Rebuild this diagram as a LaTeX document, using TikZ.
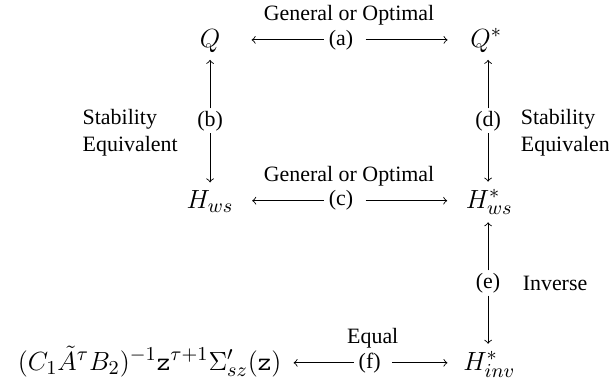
\documentclass[tikz,border=0pt]{standalone}
\usepackage[no-math]{fontspec}
\setmainfont{Liberation Serif}
\tikzset{
  obj/.style={font=\fontsize{12.7}{15}\selectfont, anchor=base},
  tag/.style={inner xsep=2pt, inner ysep=1pt},
  note/.style={align=left, inner sep=0pt},
}
\begin{document}
\begin{tikzpicture}
\useasboundingbox (0,0) rectangle (9.77,-6.23);
% objects
\node[obj] (Q) at (3.37,-0.754) {$Q$};
\node[obj] (Qs) at (7.80,-0.754) {$Q^*$};
\node[obj] (Hws) at (3.37,-3.338) {$H_{ws}$};
\node[obj] (Hwss) at (7.85,-3.338) {$H^*_{ws}$};
\node[obj] (Hinv) at (7.85,-5.939) {$H^*_{inv}$};
\node[obj, anchor=base east] (expr) at (4.64,-5.939) {$(C_1\tilde{A}^{\tau}B_2)^{-1}\mathtt{z}^{\tau+1}\Sigma'_{sz}(\mathtt{z})$};
% labels
\node[tag] (a) at (5.47,-0.64) {(a)};
\node[tag] (b) at (3.37,-1.94) {(b)};
\node[tag] (c) at (5.47,-3.22) {(c)};
\node[tag] (d) at (7.83,-1.94) {(d)};
\node[tag] (e) at (7.83,-4.54) {(e)};
\node[tag] (f) at (5.93,-5.82) {(f)};
\node (go1) at (5.60,-0.24) {General or Optimal};
\node (go2) at (5.60,-2.825) {General or Optimal};
\node (eq) at (5.98,-5.42) {Equal};
\node[note, anchor=west] (se1) at (1.32,-2.13) {Stability\\Equivalent};
\node[note, anchor=west] (se2) at (8.35,-2.13) {Stability\\Equivalent};
\node[note, anchor=west] (inv) at (8.38,-4.54) {Inverse};
% arrows
\draw[->, shorten >=10.8pt] (a) -- (a -| Q.east);
\draw[->, shorten <=3.5pt, shorten >=6.9pt] (a) -- (a -| Qs.west);
\draw[->, shorten >=5pt] (c) -- (c -| Hws.east);
\draw[->, shorten <=3.5pt, shorten >=5pt] (c) -- (c -| Hwss.west);
\draw[->, shorten >=2pt] (f) -- (f -| expr.east);
\draw[->, shorten <=3pt, shorten >=3.7pt] (f) -- (f -| Hinv.west);
\draw[->] (b) -- (b |- Q.south);
\draw[->] (b) -- (b |- Hws.north);
\draw[->] (d) -- (d |- Qs.south);
\draw[->] (d) -- (d |- Hwss.north);
\draw[->] (e) -- (e |- Hwss.south);
\draw[->] (e) -- (e |- Hinv.north);
\end{tikzpicture}
\end{document}
